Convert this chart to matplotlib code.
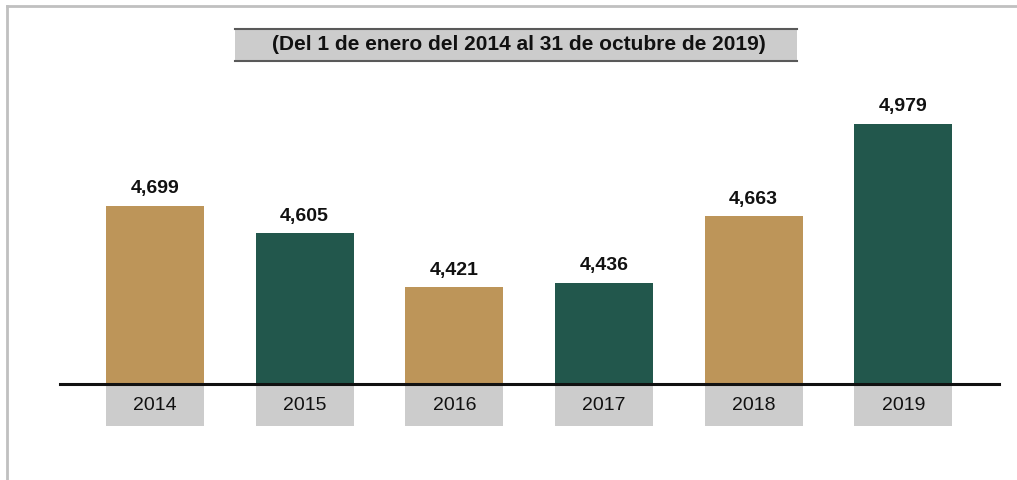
import matplotlib.pyplot as plt
from matplotlib.patches import Rectangle
from matplotlib.lines import Line2D

plt.rcParams['font.family'] = ['Liberation Sans', 'DejaVu Sans']

years = ['2014', '2015', '2016', '2017', '2018', '2019']
values = [4699, 4605, 4421, 4436, 4663, 4979]
colors = ['#BD9559', '#22574C', '#BD9559', '#22574C', '#BD9559', '#22574C']
title = '(Del 1 de enero del 2014 al 31 de octubre de 2019)'

W, H = 1017, 480
fig = plt.figure(figsize=(W / 100, H / 100), dpi=100)

# outer frame (only left and top visible)
fig.add_artist(Line2D([6.5 / W, 6.5 / W], [0, 1 - 5.5 / H], color='#C0C0C0', lw=2,
                      transform=fig.transFigure))
fig.add_artist(Line2D([6.5 / W, 1], [1 - 5.5 / H, 1 - 5.5 / H], color='#C0C0C0', lw=2,
                      transform=fig.transFigure))

# title box
bx0, bx1, by0, by1 = 235 / W, 797 / W, 1 - 61 / H, 1 - 29 / H
fig.add_artist(Rectangle((bx0, by0), bx1 - bx0, by1 - by0, facecolor='#CCCCCC',
                         edgecolor='none', transform=fig.transFigure))
for yy in (by0, by1):
    fig.add_artist(Line2D([bx0, bx1], [yy, yy], color='#595959', lw=1.5,
                          transform=fig.transFigure))
fig.text((bx0 + bx1) / 2 + 3 / W, (by0 + by1) / 2, title, ha='center', va='center',
         fontsize=15, fontweight='bold', color='#111111')

# axes: baseline at y=384 px, from x=60 to 999
ax = fig.add_axes([60 / W, 1 - 384 / H, 939 / W, 284 / H])
ymin = 4090
ymax = ymin + 284 / 0.2929
x = list(range(len(years)))
width = 0.655
ax.bar(x, values, width=width, color=colors, zorder=2)
ax.set_xlim(-0.635, 5.64)
ax.set_ylim(ymin, ymax)

for xi, v in zip(x, values):
    ax.annotate(f'{v:,}', (xi, v), xytext=(0, 6), textcoords='offset points',
                ha='center', va='bottom', fontsize=14, fontweight='bold', color='#111111')

for s in ['top', 'right', 'left']:
    ax.spines[s].set_visible(False)
ax.spines['bottom'].set_linewidth(2.2)
ax.spines['bottom'].set_color('#111111')
ax.spines['bottom'].set_zorder(4)
ax.set_yticks([])
ax.set_xticks([])

# gray boxes for year labels below the baseline
for xi, yr in zip(x, years):
    ax.add_patch(Rectangle((xi - width / 2, 0), width, -42 / 284,
                           transform=ax.get_xaxis_transform(), facecolor='#CCCCCC',
                           edgecolor='none', clip_on=False, zorder=1))
    ax.text(xi, -21 / 284, yr, transform=ax.get_xaxis_transform(), ha='center',
            va='center', fontsize=14, color='#111111')

fig.savefig('out.png', dpi=100)
